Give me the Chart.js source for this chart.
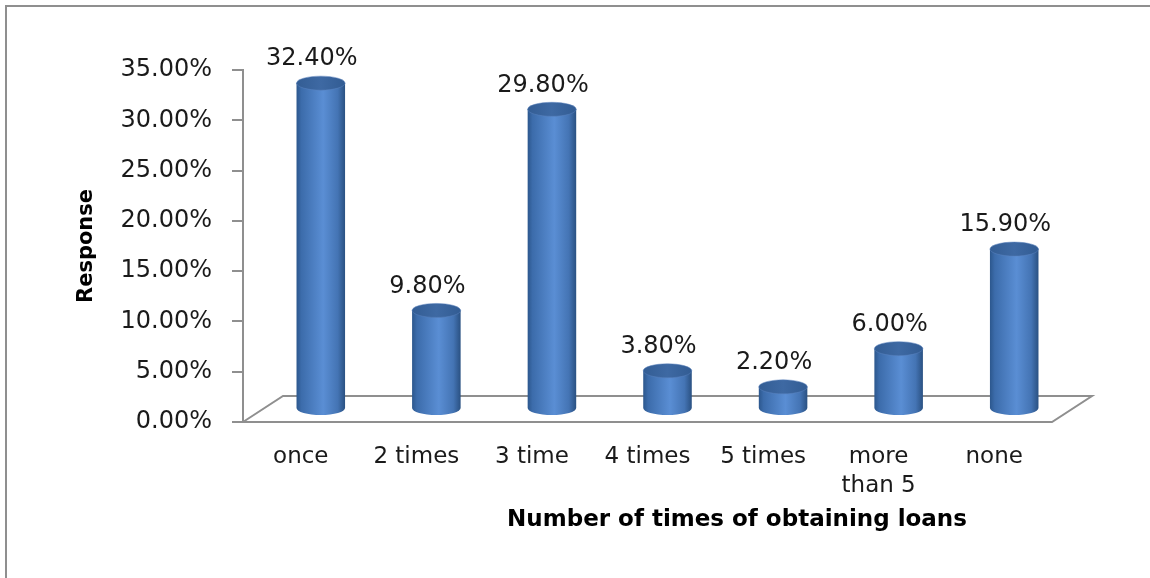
<!DOCTYPE html>
<html>
<head>
<meta charset="utf-8">
<title>Number of times of obtaining loans</title>
<script src="https://cdn.jsdelivr.net/npm/chart.js@4.4.1/dist/chart.umd.min.js"></script>
<style>
  html, body { margin: 0; padding: 0; background: #fff; }
  #wrap { width: 1150px; height: 578px; }
</style>
</head>
<body>
<div id="wrap"><canvas id="loanChart" width="1150" height="578"></canvas></div>
<script>
const categories = ['once', '2 times', '3 time', '4 times', '5 times', ['more', 'than 5'], 'none'];
const responses = [32.4, 9.8, 29.8, 3.8, 2.2, 6.0, 15.9];
const yTicks = [0, 5, 10, 15, 20, 25, 30, 35];
const xTitle = 'Number of times of obtaining loans';
const yTitle = 'Response';

// depth of the 3d floor, bars stand half way in
const DX = 40, DY = 26;
const GREY = '#8f8f8f';

function drawCylinder(ctx, cx, top, bottom, w, ry) {
  const x0 = cx - w / 2, x1 = cx + w / 2;
  const g = ctx.createLinearGradient(x0, 0, x1, 0);
  g.addColorStop(0, '#2c578d');
  g.addColorStop(0.1, '#3c6cab');
  g.addColorStop(0.55, '#5a8ed4');
  g.addColorStop(0.85, '#4474b4');
  g.addColorStop(1, '#2a5182');
  ctx.beginPath();
  ctx.moveTo(x0, top);
  ctx.lineTo(x0, bottom);
  ctx.ellipse(cx, bottom, w / 2, ry, 0, Math.PI, 0, true);
  ctx.lineTo(x1, top);
  ctx.closePath();
  ctx.fillStyle = g;
  ctx.fill();

  const cap = ctx.createLinearGradient(x0, 0, x1, 0);
  cap.addColorStop(0, '#335d94');
  cap.addColorStop(0.5, '#3e69a3');
  cap.addColorStop(1, '#325c93');
  ctx.beginPath();
  ctx.ellipse(cx, top, w / 2, ry, 0, 0, Math.PI * 2);
  ctx.fillStyle = cap;
  ctx.fill();
  ctx.strokeStyle = 'rgba(90,130,190,0.5)';
  ctx.lineWidth = 1;
  ctx.stroke();
}

const cylinders = {
  id: 'cylinders',
  beforeDraw(chart) {
    const ctx = chart.ctx;
    ctx.save();
    ctx.strokeStyle = GREY;
    ctx.lineWidth = 2;
    ctx.strokeRect(6, 6, chart.width + 20, chart.height + 20);
    ctx.restore();
  },
  beforeDatasetsDraw(chart) {
    const { ctx, chartArea: a, scales: { y } } = chart;
    const y0 = y.getPixelForValue(0);
    ctx.save();
    ctx.strokeStyle = GREY;
    ctx.lineWidth = 2;
    ctx.beginPath();
    ctx.moveTo(a.left, y0);
    ctx.lineTo(a.left + DX, y0 - DY);
    ctx.lineTo(a.right + DX, y0 - DY);
    ctx.lineTo(a.right, y0);
    ctx.lineTo(a.left, y0);
    ctx.stroke();
    ctx.restore();
  },
  afterDatasetsDraw(chart) {
    const ctx = chart.ctx;
    const meta = chart.getDatasetMeta(0);
    ctx.save();
    meta.data.forEach((bar, i) => {
      const cx = bar.x + DX / 2;
      const top = bar.y - DY / 2;
      const bottom = bar.base - DY / 2;
      drawCylinder(ctx, cx, top, bottom, bar.width, 7);
      ctx.fillStyle = '#1a1a1a';
      ctx.font = '24px "DejaVu Sans"';
      ctx.textAlign = 'center';
      ctx.textBaseline = 'middle';
      ctx.fillText(responses[i].toFixed(2) + '%', bar.x + 11, top - 24);
    });
    ctx.restore();
  },
  afterDraw(chart) {
    const ctx = chart.ctx;
    ctx.save();
    ctx.fillStyle = '#000';
    ctx.font = 'bold 23px "DejaVu Sans"';
    ctx.textAlign = 'center';
    ctx.textBaseline = 'middle';
    ctx.fillText(xTitle, 737, 520);
    ctx.restore();
  }
};

new Chart(document.getElementById('loanChart'), {
  type: 'bar',
  data: {
    labels: categories,
    datasets: [{
      data: responses,
      backgroundColor: 'rgba(0,0,0,0)',
      borderWidth: 0,
      barPercentage: 0.42,
      categoryPercentage: 1
    }]
  },
  options: {
    responsive: false,
    animation: false,
    layout: { padding: { top: 70, right: 98, bottom: 0, left: 0 } },
    plugins: {
      legend: { display: false },
      tooltip: { enabled: false }
    },
    scales: {
      x: {
        offset: true,
        afterFit: s => { s.height = 156; },
        border: { display: false },
        grid: { display: false, drawTicks: false },
        ticks: {
          padding: 21,
          color: '#1a1a1a',
          maxRotation: 0,
          autoSkip: false,
          font: { family: 'DejaVu Sans', size: 23, lineHeight: 1.25 }
        }
      },
      y: {
        min: 0,
        max: 35,
        afterBuildTicks: s => { s.ticks = yTicks.map(v => ({ value: v })); },
        afterFit: s => { s.width = 243; },
        border: { display: true, color: GREY, width: 2 },
        grid: { drawOnChartArea: false, drawTicks: true, tickLength: 11, color: GREY, lineWidth: 2 },
        ticks: {
          padding: 20,
          color: '#1a1a1a',
          font: { family: 'DejaVu Sans', size: 24 },
          callback: v => v.toFixed(2) + '%'
        },
        title: {
          display: true,
          text: yTitle,
          color: '#000',
          font: { family: 'DejaVu Sans', size: 21, weight: 'bold' },
          padding: { top: 74, bottom: 0 }
        }
      }
    }
  },
  plugins: [cylinders]
});
</script>
</body>
</html>
